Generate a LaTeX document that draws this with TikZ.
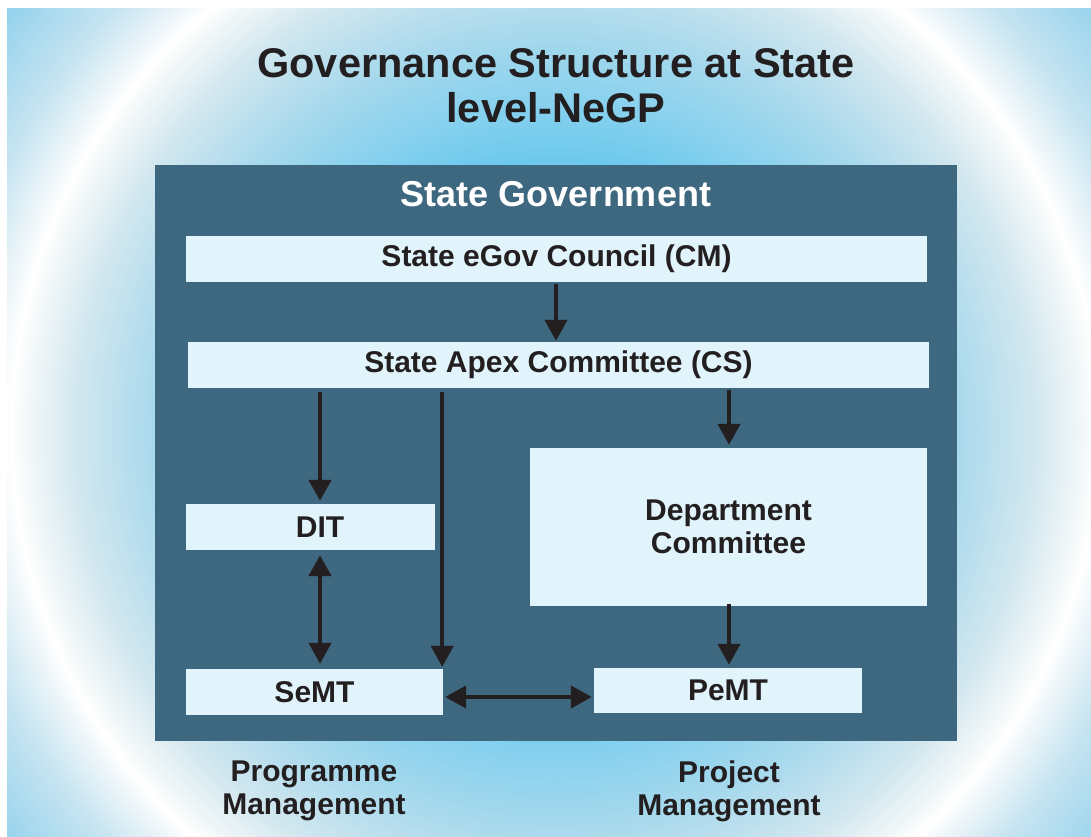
\documentclass[tikz,border=0pt]{standalone}
\usepackage{fontspec}
\setmainfont{Liberation Sans}
\usetikzlibrary{arrows.meta,calc}
\definecolor{bgA}{HTML}{9AD8F0}
\definecolor{bgB}{HTML}{74CBEC}
\definecolor{bgC}{HTML}{6DC9EC}
\definecolor{bgD}{HTML}{84D0EE}
\definecolor{bgE}{HTML}{A8D9ED}
\definecolor{bgF}{HTML}{D2E7EF}
\definecolor{bgG}{HTML}{F3F8F9}
\definecolor{bgH}{HTML}{F0F7FA}
\definecolor{bgI}{HTML}{C6E4F1}
\definecolor{bgJ}{HTML}{8CCFED}
\definecolor{bgK}{HTML}{74C8EA}
\definecolor{darkbox}{HTML}{3E6780}
\definecolor{lightbox}{HTML}{E1F4FB}
\definecolor{ink}{HTML}{231F20}
\pgfdeclareradialshading{bgring}{\pgfpoint{0bp}{0bp}}{%
color(0bp)=(bgA); color(7bp)=(bgB); color(8.5bp)=(bgC); color(10bp)=(bgD);
color(12.5bp)=(bgE); color(15bp)=(bgF); color(16.5bp)=(bgG); color(17bp)=(white);
color(17.5bp)=(bgH); color(19bp)=(bgI); color(22bp)=(bgJ); color(25bp)=(bgK); color(50bp)=(bgK)}
\tikzset{
  box/.style={fill=lightbox, draw=none, inner sep=0pt, text=ink,
    font=\bfseries\fontsize{30}{33}\selectfont, align=center},
  lbl/.style={text=ink, font=\bfseries\fontsize{30}{33}\selectfont, align=center, inner sep=0pt},
  arr/.style={draw=ink, line width=4.3pt, -{Triangle[width=22pt,length=21pt]}},
  darr/.style={draw=ink, line width=4.3pt, {Triangle[width=22pt,length=21pt]}-{Triangle[width=22pt,length=21pt]}}
}
\begin{document}
\begin{tikzpicture}[x=1pt,y=-1pt]
\useasboundingbox (0,0) rectangle (1091,836);
\fill[white] (0,0) rectangle (1091,836);
\begin{scope}
  \clip (7,8) rectangle (1091,836);
  \shade[shading=bgring] (555,430) circle (800);
\end{scope}
% title
\node[text=ink, font=\bfseries\fontsize{41.5}{45}\selectfont, align=center, inner sep=0pt] (title) at (556,86) {Governance Structure at State\\level-NeGP};
% state government box
\node[fill=darkbox, inner sep=0pt, minimum width=802pt, minimum height=576pt] (state) at (556,453) {};
\node[text=white, font=\bfseries\fontsize{36}{40}\selectfont, inner sep=0pt] (stlabel) at (556,194) {State Government};
% boxes
\node[box, minimum width=741pt, minimum height=46pt] (egov) at (556.5,259) {State eGov Council (CM)};
\node[box, minimum width=741pt, minimum height=46pt] (apex) at (558.5,365) {State Apex Committee (CS)};
\node[box, minimum width=249pt, minimum height=46pt] (dit) at (310.5,527) {\hspace*{19pt}DIT};
\node[box, minimum width=397pt, minimum height=158pt] (dept) at (728.5,527) {Department\\Committee};
\node[box, minimum width=257pt, minimum height=46pt] (semt) at (314.5,692) {SeMT};
\node[box, minimum width=268pt, minimum height=45pt] (pemt) at (728,690.5) {PeMT};
% bottom labels
\node[lbl] (prog) at (314,791) {Programme\\Management};
\node[lbl] (proj) at (729,791) {Project\\Management};
% arrows
\draw[arr] ($(egov.south)+(-0.5,2)$) -- ($(egov.south |- apex.north)+(-0.5,-1)$);
\draw[arr] ($(apex.south -| dit.north)+(9.5,4)$) -- ($(dit.north)+(9.5,-3)$);
\draw[arr] ($(apex.south -| semt.north east)+(-1,4)$) -- ($(semt.north east)+(-1,-2)$);
\draw[arr] ($(apex.south -| dept.north)+(0.5,2)$) -- ($(dept.north)+(0.5,-3)$);
\draw[darr] ($(dit.south)+(9.5,5)$) -- ($(dit.south |- semt.north)+(9.5,-5)$);
\draw[arr] ($(dept.south)+(0.5,-2)$) -- ($(dept.south |- pemt.north)+(0.5,-3)$);
\draw[darr] ($(semt.east)+(2,5)$) -- ($(semt.east -| pemt.west)+(-2,5)$);
\end{tikzpicture}
\end{document}
